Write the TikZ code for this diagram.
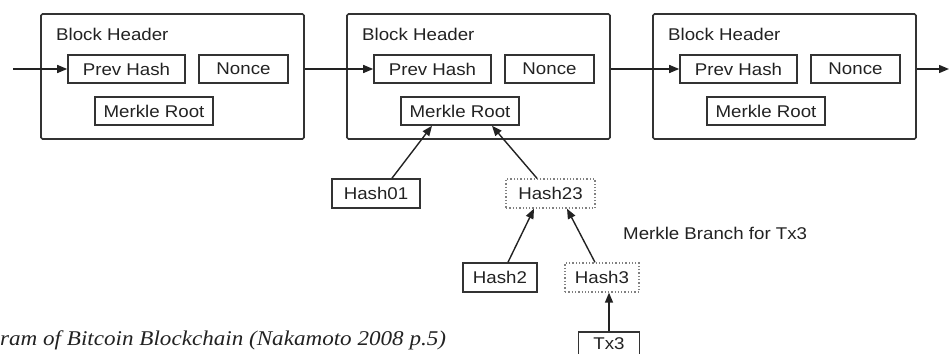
\documentclass[tikz,border=0pt]{standalone}
\usepackage{fontspec}
\setmainfont[FakeStretch=1.1]{Liberation Sans}
\newfontfamily\capfont[FakeStretch=1.1]{Liberation Serif}
\usetikzlibrary{arrows.meta,positioning}
\definecolor{ink}{HTML}{222222}
\definecolor{boxline}{HTML}{333333}
\tikzset{
  blockbox/.style={draw=boxline, line width=1.6pt, rounded corners=1.5pt, minimum width=263pt, minimum height=125pt, inner sep=0pt},
  fieldbox/.style={draw=boxline, line width=1.6pt, minimum height=28pt, inner sep=0pt, font=\fontsize{17}{19}\selectfont, text=ink},
  branchbox/.style={draw=gray, line width=1.3pt, dotted, minimum height=29pt, inner sep=0pt, font=\fontsize{17}{19}\selectfont, text=ink},
  labeltext/.style={font=\fontsize{17}{19}\selectfont, text=ink, inner sep=0pt},
  link/.style={draw=ink, line width=1.4pt, -{Triangle[length=10pt,width=8pt]}}
}
\begin{document}
\begin{tikzpicture}[x=1pt,y=-1pt]
\useasboundingbox (0,0) rectangle (949,353);
% blocks
\foreach \i/\L in {1/41,2/347,3/653}{
  \node[blockbox] (b\i) at (\L+131.5,76.5) {};
  \node[labeltext, anchor=west] (bh\i) at (\L+15,34) {Block Header};
  \node[fieldbox, minimum width=117pt] (p\i) at (\L+85.5,69) {Prev Hash};
  \node[fieldbox, minimum width=89pt] (n\i) at (\L+202.5,69) {Nonce};
  \node[fieldbox, minimum width=118pt] (m\i) at (\L+113,111) {Merkle Root};
}
% chain
\coordinate (cin) at (13,69);
\coordinate (cout) at (949,69);
\draw[link] (cin) -- (p1.west);
\draw[link] (b1.east |- p1.west) -- (p2.west);
\draw[link] (b2.east |- p2.west) -- (p3.west);
\draw[link] (b3.east |- p3.west) -- (cout);
% merkle tree
\node[fieldbox, minimum width=88pt, minimum height=29pt] (h01) at (376,193.5) {Hash01};
\node[branchbox, minimum width=89pt] (h23) at (550.5,193.5) {Hash23};
\node[fieldbox, minimum width=74pt, minimum height=29pt] (h2) at (500,277.5) {Hash2};
\node[branchbox, minimum width=74pt] (h3) at (602,277.5) {Hash3};
\node[fieldbox, minimum width=61pt, minimum height=24pt] (tx3) at (609,344) {Tx3};
\node[labeltext, anchor=west] (mb) at (623,233) {Merkle Branch for Tx3};
\draw[link] ([xshift=16pt]h01.north) -- ([xshift=-28pt]m2.south);
\draw[link] ([xshift=-13.5pt]h23.north) -- ([xshift=32pt]m2.south);
\draw[link] ([xshift=8pt]h2.north) -- ([xshift=-16.5pt]h23.south);
\draw[link] ([xshift=-7pt]h3.north) -- ([xshift=16.5pt]h23.south);
\draw[link] (tx3.north) -- (tx3.north |- h3.south);
% caption (cut at the left edge)
\node[anchor=base west, inner sep=0pt, font=\capfont\itshape\fontsize{21}{23}\selectfont, text=ink] (cap) at (0,345) {ram of Bitcoin Blockchain (Nakamoto 2008 p.5)};
\end{tikzpicture}
\end{document}
